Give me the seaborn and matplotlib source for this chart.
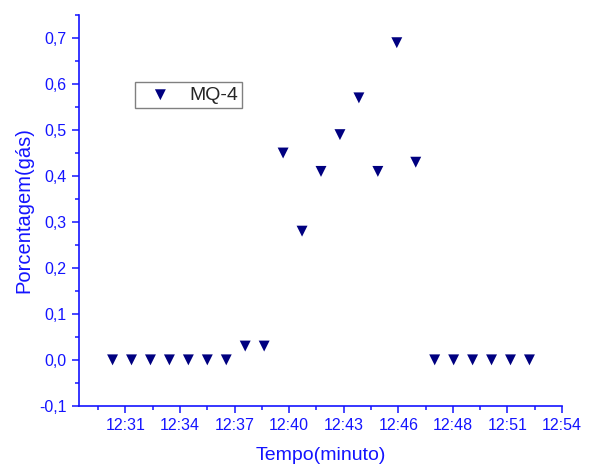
import matplotlib
matplotlib.use("Agg")
import matplotlib.pyplot as plt
import matplotlib.ticker as mticker
import pandas as pd
import seaborn as sns

# Leituras do sensor MQ-4 (uma por minuto)
tempos = ["12:31", "12:32", "12:33", "12:34", "12:35", "12:36", "12:37", "12:38",
          "12:39", "12:40", "12:41", "12:42", "12:43", "12:44", "12:45", "12:46",
          "12:47", "12:48", "12:49", "12:50", "12:51", "12:52", "12:53"]
porcentagem = [0.0, 0.0, 0.0, 0.0, 0.0, 0.0, 0.0, 0.03,
               0.03, 0.45, 0.28, 0.41, 0.49, 0.57, 0.41, 0.69,
               0.43, 0.0, 0.0, 0.0, 0.0, 0.0, 0.0]

# ticks do Origin: passo de 0,002 dia, rotulos truncados ao minuto
tick_dias = [0.522, 0.524, 0.526, 0.528, 0.530, 0.532, 0.534, 0.536, 0.538]
tick_rotulos = ["12:31", "12:34", "12:37", "12:40", "12:43", "12:46", "12:48", "12:51", "12:54"]


def minutos(t):
    h, m = t.split(":")
    return int(h) * 60 + int(m)


df = pd.DataFrame({"minuto": [minutos(t) for t in tempos], "gas": porcentagem})

sns.set_style("ticks")
plt.rcParams["font.family"] = ["Liberation Sans", "DejaVu Sans"]

azul = "#1414ff"
fig = plt.figure(figsize=(5.9, 4.67), dpi=100)
ax = fig.add_axes([0.134, 0.131, 0.8186, 0.8366])

sns.scatterplot(data=df, x="minuto", y="gas", ax=ax, marker="v", s=62,
                color="#000080", edgecolor="none", label="MQ-4")

ax.set_xlim(0.5203 * 1440, 0.538 * 1440)
ax.set_ylim(-0.1, 0.75)
ax.set_xticks([d * 1440 for d in tick_dias])
ax.set_xticklabels(tick_rotulos)
ax.xaxis.set_minor_locator(mticker.MultipleLocator(0.001 * 1440))
ax.yaxis.set_major_locator(mticker.MultipleLocator(0.1))
ax.yaxis.set_minor_locator(mticker.MultipleLocator(0.05))
ax.yaxis.set_major_formatter(mticker.FuncFormatter(lambda v, p: f"{v:.1f}".replace(".", ",")))

sns.despine(ax=ax)
for lado in ["left", "bottom"]:
    ax.spines[lado].set_color(azul)
    ax.spines[lado].set_linewidth(1.2)

ax.tick_params(which="both", colors=azul, labelcolor=azul, width=1.1, direction="out")
ax.tick_params(which="major", length=5, labelsize=11.5, pad=4)
ax.tick_params(which="minor", length=3)

ax.set_xlabel("Tempo(minuto)", fontsize=14, color=azul, labelpad=10)
ax.set_ylabel("Porcentagem(gás)", fontsize=14.5, color=azul)
ax.yaxis.set_label_coords(-0.095, 0.5)

leg = ax.legend(loc="upper left", bbox_to_anchor=(0.116, 0.828), borderaxespad=0,
                fontsize=14, frameon=True, fancybox=False, framealpha=1,
                borderpad=0.2, handlelength=2.2, handletextpad=0.4)
leg.get_frame().set_edgecolor("#808080")
leg.get_frame().set_linewidth(1.0)

plt.savefig("out.png", dpi=100)
plt.close()
